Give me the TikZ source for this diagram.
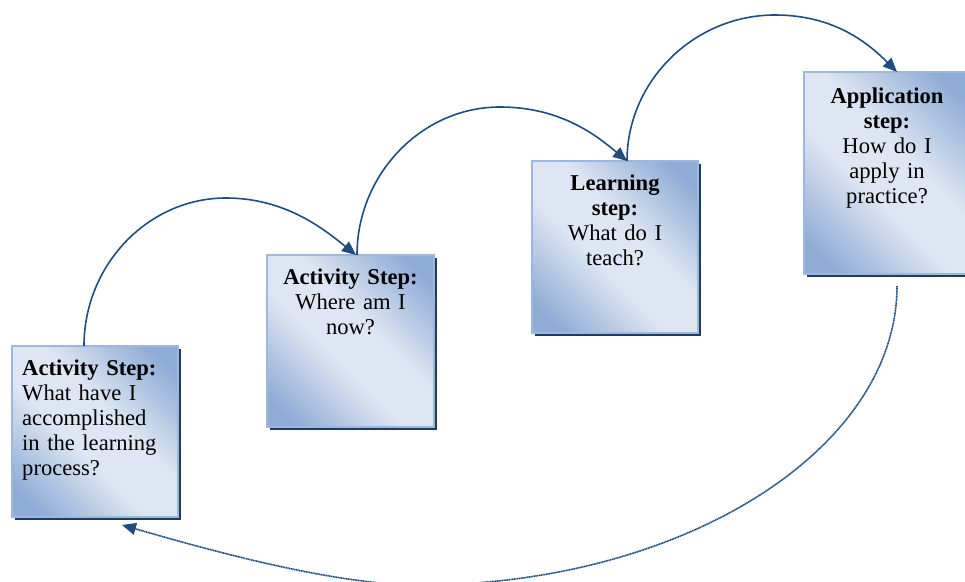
\documentclass[tikz,border=0pt]{standalone}
\usepackage{fontspec}
\setmainfont{Liberation Serif}
\usetikzlibrary{shadows,arrows.meta}
\definecolor{stepdark}{HTML}{8FACD6}
\definecolor{steplight}{HTML}{DDE6F2}
\definecolor{stepedge}{HTML}{9DB8DC}
\definecolor{stepshadow}{HTML}{1F3B60}
\definecolor{arrowblue}{HTML}{1F4E7E}
\pgfdeclareverticalshading{stepshade}{100bp}{color(0bp)=(stepdark); color(21bp)=(stepdark);
	color(43bp)=(steplight); color(57bp)=(steplight); color(79bp)=(stepdark); color(100bp)=(stepdark)}
\tikzset{
	stepbox/.style={draw=stepedge, line width=1.2pt, anchor=north west, inner sep=0pt, outer sep=0pt,
		shading=stepshade, shading angle=-45,
		general shadow={fill=stepshadow, shadow xshift=3pt, shadow yshift=-3pt}},
	steptext/.style={anchor=north, inner sep=0pt, text width=150pt, align=center,
		font=\fontsize{22.6}{25}\selectfont},
	looparrow/.style={draw=arrowblue, line width=1.6pt, -{Triangle[length=14pt,width=12pt]}}
}

\begin{document}
\begin{tikzpicture}[x=1pt,y=-1pt]
		\useasboundingbox (0,0) rectangle (965,581);
		%cajas de los pasos
		\node[stepbox, minimum width=166pt, minimum height=171pt] (doneact) at (12,346) {};
		\node[stepbox, minimum width=167pt, minimum height=172pt] (nowact) at (267,255) {};
		\node[stepbox, minimum width=166pt, minimum height=172pt] (learnact) at (532,161) {};
		\node[stepbox, minimum width=166pt, minimum height=202pt] (applyact) at (804,72) {};

		\node[steptext, align=left, anchor=north west] (donetext) at ([xshift=10pt,yshift=-14pt]doneact.north west)
			{\textbf{Activity Step:}\\What have I\\accomplished\\in the learning\\process?};
		\node[steptext] (nowtext) at ([yshift=-14pt]nowact.north) {\textbf{Activity Step:}\\Where am I\\now?};
		\node[steptext] (learntext) at ([yshift=-14pt]learnact.north) {\textbf{Learning}\\\textbf{step:}\\What do I\\teach?};
		\node[steptext] (applytext) at ([yshift=-16pt]applyact.north) {\textbf{Application}\\\textbf{step:}\\How do I\\apply in\\practice?};

		%flechas entre los pasos
		\draw[looparrow] ([xshift=72pt]doneact.north west) .. controls +(0,-81) and +(-78,0) .. (226,198)
			.. controls +(60,0) and +(-31,-25) .. ([xshift=89pt]nowact.north west);
		\draw[looparrow] ([xshift=90pt]nowact.north west) .. controls +(0,-80) and +(-79,0) .. (500,107)
			.. controls +(60,0) and +(-31,-26) .. ([xshift=95pt]learnact.north west);
		\draw[looparrow] ([xshift=95pt]learnact.north west) .. controls +(0,-80) and +(-81,0) .. (775,15)
			.. controls +(60,0) and +(-28,-28) .. ([xshift=93pt]applyact.north west);
		\draw[looparrow, dash pattern=on 1.2pt off 0.5pt] ([xshift=93pt,yshift=-12pt]applyact.south west)
			.. controls +(0,164) and +(262,0) .. (420,585)
			.. controls +(-90,0) and +(77,22) .. ([xshift=110pt,yshift=-8pt]doneact.south west);
\end{tikzpicture}
\end{document}
